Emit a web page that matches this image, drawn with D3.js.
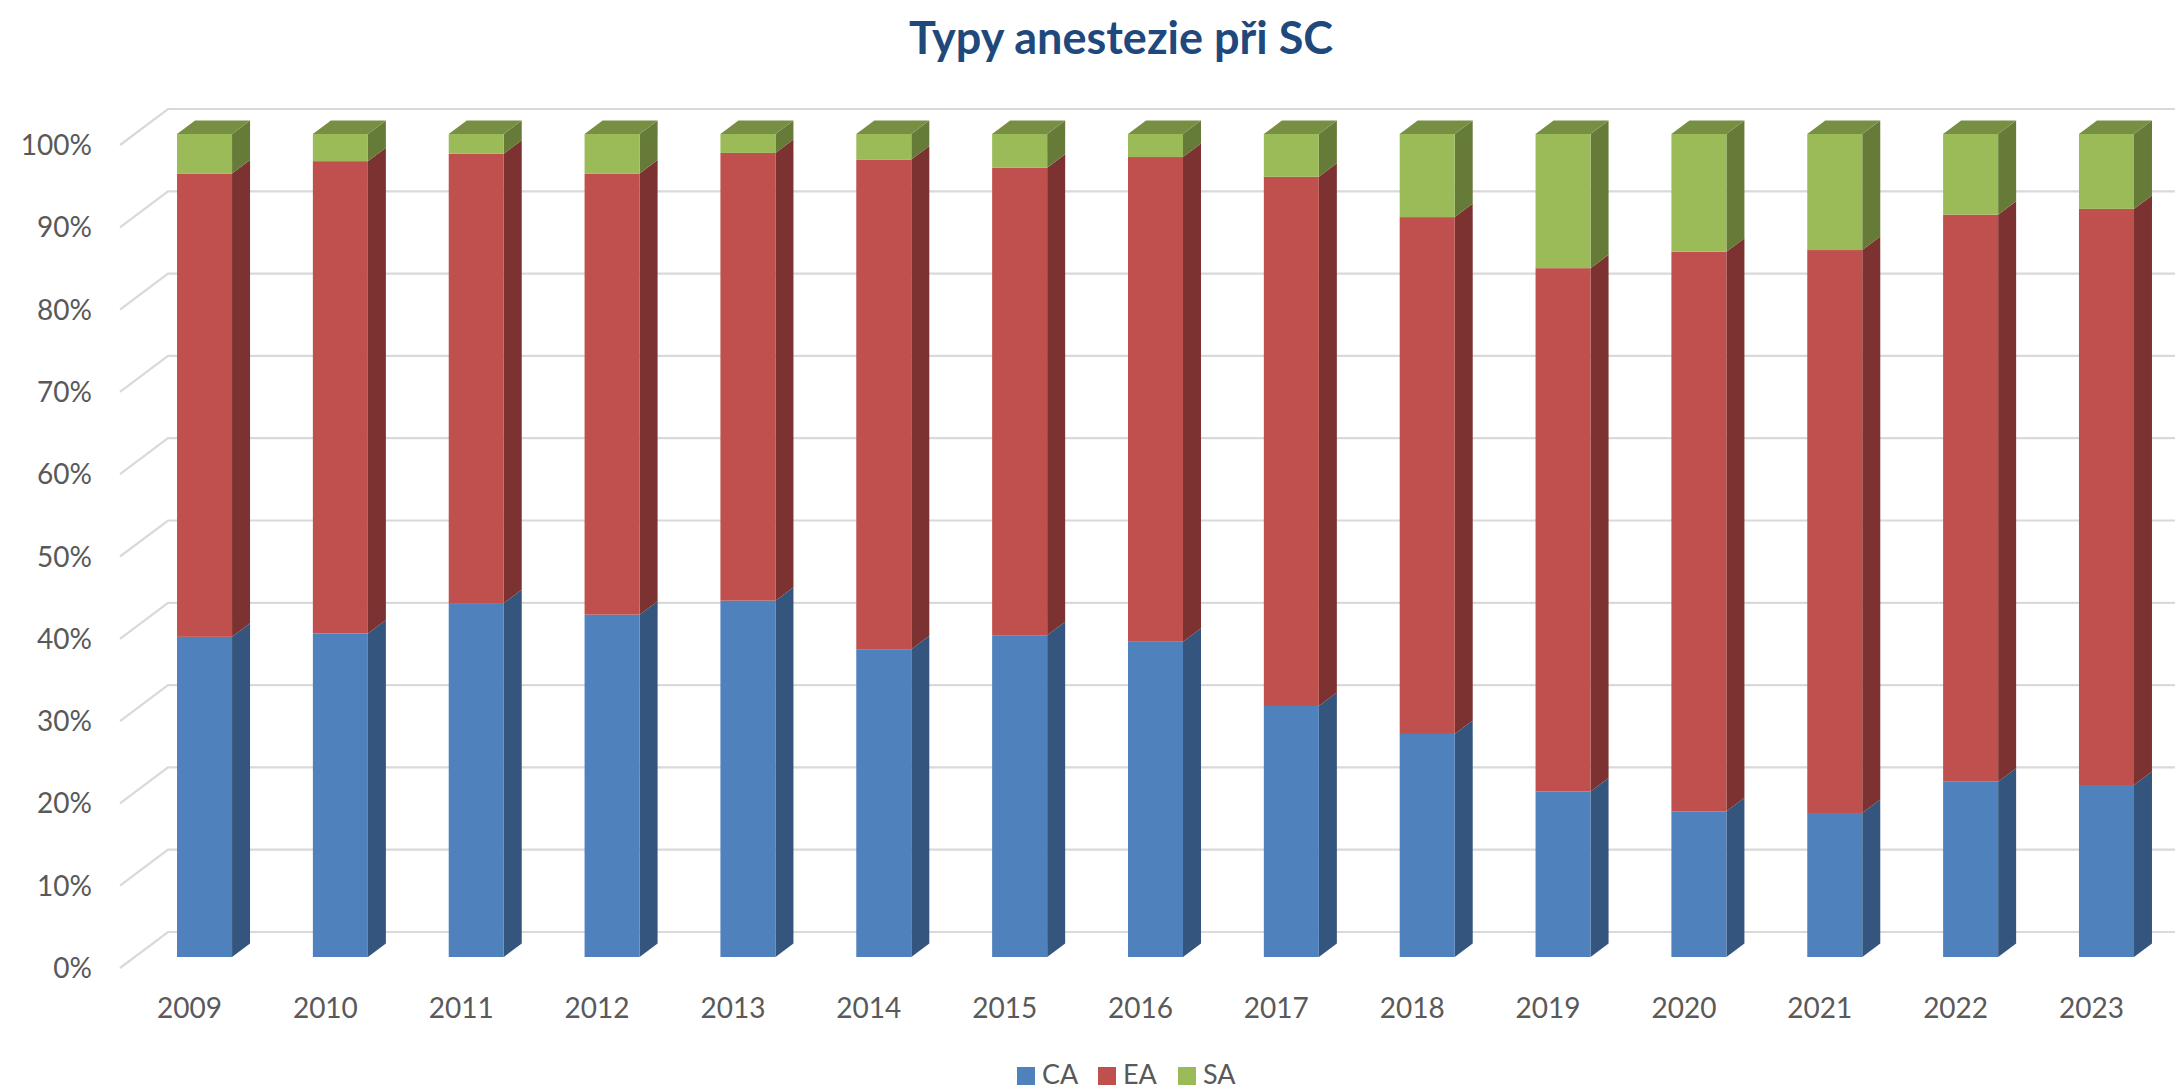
<!DOCTYPE html>
<html>
<head>
<meta charset="utf-8">
<script src="https://cdn.jsdelivr.net/npm/d3@7"></script>
<style>
  html, body { margin: 0; padding: 0; background: #fff; }
  svg { display: block; font-family: Lato, "Open Sans", sans-serif; }
</style>
</head>
<body>
<div id="chart-area"></div>
<script>
// data (shares in %)
const years = ["2009","2010","2011","2012","2013","2014","2015","2016","2017","2018","2019","2020","2021","2022","2023"];
const ca = [38.9, 39.3, 43.0, 41.6, 43.3, 37.4, 39.1, 38.3, 30.5, 27.1, 20.1, 17.7, 17.5, 21.3, 20.9];
const ea = [56.3, 57.4, 54.6, 53.6, 54.4, 59.5, 56.8, 58.9, 64.3, 62.8, 63.6, 68.0, 68.4, 68.9, 70.0];
const sa = [4.8, 3.3, 2.4, 4.8, 2.3, 3.1, 4.1, 2.8, 5.2, 10.1, 16.3, 14.3, 14.1, 9.8, 9.1];
const seriesNames = ["CA", "EA", "SA"];
const yTicks = [0, 10, 20, 30, 40, 50, 60, 70, 80, 90, 100];
const title = "Typy anestezie při SC";

const w = 2175, h = 1089;

const colors = {
  CA: { front: "#4F81BD", side: "#34557D" },
  EA: { front: "#C0504D", side: "#7B3230" },
  SA: { front: "#9BBB59", side: "#667B37", top: "#778F43" }
};

const rows = years.map((y, i) => ({ year: y, CA: ca[i], EA: ea[i], SA: sa[i] }));
const stacked = d3.stack().keys(seriesNames)(rows);

const x = d3.scaleBand()
  .domain(years)
  .range([136.6, 2174.4])
  .paddingInner(0.595)
  .paddingOuter(0.2975);

const y = d3.scaleLinear().domain([0, 100]).range([957, 134]);

// 3D offsets
const dx = 18, dy = -13.5;       // bar depth

const svg = d3.select("#chart-area")
  .append("svg")
  .attr("width", w)
  .attr("height", h);

svg.append("text")
  .attr("x", 1121)
  .attr("y", 54)
  .attr("text-anchor", "middle")
  .attr("font-size", 45)
  .attr("font-weight", "bold")
  .attr("fill", "#1F497D")
  .text(title);

// gridlines: side wall diagonal + back wall horizontal
const grid = svg.append("g").attr("stroke", "#D9D9D9").attr("stroke-width", 2.2).attr("fill", "none");
grid.selectAll("path")
  .data(yTicks)
  .enter()
  .append("path")
  .attr("d", d => {
    const yb = y(d) - 25;
    return "M120," + (y(d) + 11) + "L168," + yb + "L" + w + "," + yb;
  });

svg.append("g")
  .selectAll("text")
  .data(yTicks)
  .enter()
  .append("text")
  .attr("x", 92)
  .attr("y", d => y(d) + 11)
  .attr("dy", "0.36em")
  .attr("text-anchor", "end")
  .attr("font-size", 28)
  .attr("fill", "#595959")
  .text(d => d + "%");

// bars
const bw = x.bandwidth();
stacked.forEach((layer, li) => {
  const key = layer.key;
  const g = svg.append("g").attr("class", "series-" + key);
  const seg = g.selectAll("g")
    .data(layer)
    .enter()
    .append("g");

  seg.append("path")
    .attr("fill", colors[key].side)
    .attr("d", d => {
      const xr = x(d.data.year) + bw;
      const y0 = y(d[0]), y1 = y(d[1]);
      return "M" + xr + "," + y1 + "L" + (xr + dx) + "," + (y1 + dy) +
        "L" + (xr + dx) + "," + (y0 + dy) + "L" + xr + "," + y0 + "Z";
    });

  seg.append("rect")
    .attr("x", d => x(d.data.year))
    .attr("y", d => y(d[1]))
    .attr("width", bw)
    .attr("height", d => y(d[0]) - y(d[1]))
    .attr("fill", colors[key].front);

  if (li === stacked.length - 1) {
    seg.append("path")
      .attr("fill", colors[key].top)
      .attr("d", d => {
        const xl = x(d.data.year);
        const yt = y(d[1]);
        return "M" + xl + "," + yt + "L" + (xl + dx) + "," + (yt + dy) +
          "L" + (xl + bw + dx) + "," + (yt + dy) + "L" + (xl + bw) + "," + yt + "Z";
      });
  }
});

// category labels
svg.append("g")
  .selectAll("text")
  .data(years)
  .enter()
  .append("text")
  .attr("x", d => x(d) + bw / 2 - 15)
  .attr("y", 1018)
  .attr("text-anchor", "middle")
  .attr("font-size", 28)
  .attr("fill", "#595959")
  .text(d => d);

// legend
const legendX = [1017, 1098, 1178];
const legend = svg.append("g")
  .selectAll("g")
  .data(seriesNames)
  .enter()
  .append("g")
  .attr("transform", (d, i) => "translate(" + legendX[i] + ",1067)");

legend.append("rect")
  .attr("width", 18)
  .attr("height", 18)
  .attr("fill", d => colors[d].front);

legend.append("text")
  .attr("x", 25)
  .attr("y", 17)
  .attr("font-size", 27)
  .attr("fill", "#595959")
  .text(d => d);
</script>
</body>
</html>
